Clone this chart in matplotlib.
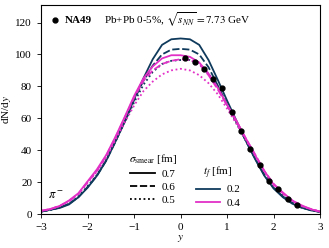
import matplotlib
matplotlib.use("Agg")
import matplotlib.pyplot as plt
from matplotlib.lines import Line2D

plt.rcParams["font.family"] = "serif"
plt.rcParams["font.serif"] = ["Liberation Serif", "DejaVu Serif"]
plt.rcParams["mathtext.fontset"] = "stix"

NAVY = "#0f3a5c"
MAGENTA = "#e22fc6"

# rapidity grid of the model curves
y = [-3.0, -2.8, -2.6, -2.4, -2.2, -2.0, -1.8, -1.6, -1.4, -1.2, -1.0,
     -0.8, -0.6, -0.4, -0.2, 0.0, 0.2, 0.4, 0.6, 0.8, 1.0,
     1.2, 1.4, 1.6, 1.8, 2.0, 2.2, 2.4, 2.6, 2.8, 3.0]

# t_f = 0.2 fm
navy_07 = [1.5, 2.8, 3.8, 6.0, 10.5, 16.5, 24.0, 33.5, 45.5, 58.0, 72.0,
           85.0, 97.0, 106.0, 109.5, 110.0, 109.5, 106.0, 96.5, 84.0, 71.0,
           58.5, 46.0, 34.5, 24.0, 16.0, 10.5, 6.5, 4.0, 2.3, 1.3]
navy_06 = [1.5, 2.6, 4.0, 6.5, 10.5, 17.0, 24.0, 33.5, 45.5, 58.0, 71.5,
           83.5, 93.0, 100.0, 103.0, 103.5, 103.0, 100.0, 92.0, 80.5, 68.5,
           57.5, 46.0, 35.0, 24.5, 16.5, 11.0, 7.0, 4.2, 2.5, 1.3]
navy_05 = [1.6, 2.5, 4.2, 6.5, 10.8, 17.5, 24.5, 34.0, 45.5, 58.0, 70.0,
           81.0, 89.0, 94.0, 96.0, 96.5, 96.5, 94.0, 88.0, 79.5, 68.0,
           57.0, 46.0, 35.0, 25.0, 16.5, 11.5, 7.2, 4.0, 2.6, 1.3]

# t_f = 0.4 fm
mag_07 = [2.0, 3.2, 5.0, 8.5, 13.0, 20.5, 28.0, 37.0, 48.5, 61.0, 74.0,
          85.0, 92.5, 97.5, 99.5, 99.5, 98.5, 95.0, 88.0, 79.0, 68.5,
          58.5, 47.5, 37.0, 27.0, 18.5, 13.5, 8.5, 5.5, 3.0, 1.5]
mag_06 = [2.0, 3.0, 5.2, 8.0, 12.5, 20.0, 27.0, 36.5, 48.0, 60.5, 73.0,
          83.5, 90.0, 94.0, 96.0, 97.0, 96.5, 94.0, 87.0, 78.0, 68.0,
          58.0, 47.5, 37.5, 27.0, 19.0, 13.0, 8.5, 5.0, 3.2, 1.5]
mag_05 = [2.1, 3.0, 5.0, 8.2, 12.5, 19.5, 26.5, 35.5, 46.5, 57.5, 68.0,
          77.0, 83.0, 87.5, 90.0, 91.0, 90.0, 87.0, 82.0, 75.0, 66.0,
          56.5, 46.5, 36.5, 26.5, 18.0, 12.5, 8.0, 5.0, 3.0, 1.6]

# NA49 data
na49_y = [0.1, 0.3, 0.5, 0.7, 0.9, 1.1, 1.3, 1.5, 1.7, 1.9, 2.1, 2.3, 2.5]
na49_dndy = [97.7, 95.0, 91.0, 84.7, 78.9, 64.2, 52.3, 40.6, 30.5, 20.6, 15.6, 9.6, 5.8]

fig = plt.figure(figsize=(3.29, 2.48), dpi=100)
ax = fig.add_axes([0.125, 0.137, 0.848, 0.843])

lw = 1.3
ax.plot(y, navy_07, color=NAVY, ls="-", lw=lw)
ax.plot(y, navy_06, color=NAVY, ls=(0, (4, 1.5)), lw=lw)
ax.plot(y, navy_05, color=NAVY, ls=(0, (1, 1.5)), lw=lw)
ax.plot(y, mag_07, color=MAGENTA, ls="-", lw=lw)
ax.plot(y, mag_06, color=MAGENTA, ls=(0, (4, 1.5)), lw=lw)
ax.plot(y, mag_05, color=MAGENTA, ls=(0, (1, 1.5)), lw=lw)
ax.plot(na49_y, na49_dndy, "o", color="black", ms=3.5)

ax.set_xlim(-3, 3)
ax.set_ylim(0, 131)
ax.set_xticks([-3, -2, -1, 0, 1, 2, 3])
ax.set_yticks([0, 20, 40, 60, 80, 100, 120])
ax.set_xticklabels(["\u22123", "\u22122", "\u22121", "0", "1", "2", "3"])
ax.tick_params(labelsize=8, length=3, width=0.6)
for s in ax.spines.values():
    s.set_linewidth(0.8)
ax.set_xlabel("$y$", fontsize=8, labelpad=1)
ax.set_ylabel("dN/d$y$", fontsize=8, labelpad=2)

ax.plot([-2.7], [121.5], "o", color="black", ms=3.5)
ax.text(-2.5, 121.5, "NA49", fontsize=8, fontweight="bold", va="center")
ax.text(-1.65, 121.5, r"Pb+Pb 0-5%, $\sqrt{s_{NN}} = 7.73$ GeV", fontsize=8, va="center")
ax.text(-2.85, 11, r"$\pi^-$", fontsize=9, va="center")

h1 = [Line2D([], [], color="black", ls="-", lw=lw),
      Line2D([], [], color="black", ls=(0, (4, 1.5)), lw=lw),
      Line2D([], [], color="black", ls=(0, (1, 1.5)), lw=lw)]
leg1 = ax.legend(h1, ["0.7", "0.6", "0.5"], title=r"$\sigma_{\rm smear}$ [fm]",
                 loc="upper left", bbox_to_anchor=(0.29, 0.33), frameon=False,
                 fontsize=8, title_fontsize=8, handlelength=2.2, handletextpad=0.6,
                 labelspacing=0.3, borderpad=0.1)
ax.add_artist(leg1)
h2 = [Line2D([], [], color=NAVY, ls="-", lw=lw),
      Line2D([], [], color=MAGENTA, ls="-", lw=lw)]
ax.legend(h2, ["0.2", "0.4"], title=r"$t_f$ [fm]",
          loc="upper left", bbox_to_anchor=(0.53, 0.265), frameon=False,
          fontsize=8, title_fontsize=8, handlelength=2.2, handletextpad=0.6,
          labelspacing=0.3, borderpad=0.1)

fig.savefig("out.png", dpi=100)
